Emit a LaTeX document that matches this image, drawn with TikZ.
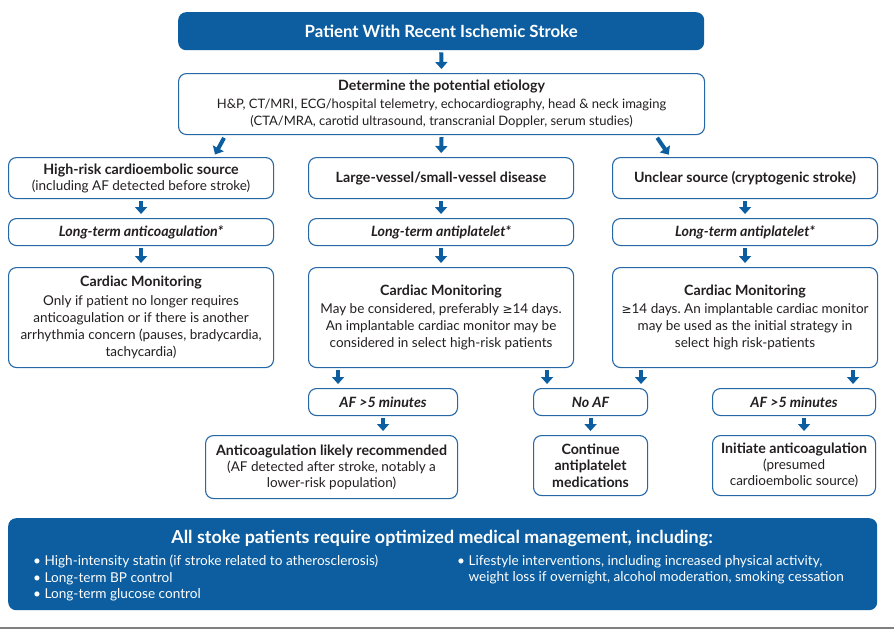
\documentclass[tikz,border=0pt]{standalone}
\usepackage{fontspec}
\setmainfont{Lato}
\newfontfamily\symfont{DejaVu Sans}
\usetikzlibrary{arrows.meta,calc}
\definecolor{sblue}{RGB}{12,94,160}
\definecolor{bblue}{RGB}{38,104,166}
\definecolor{txt}{RGB}{35,31,32}
\newcommand{\mygeq}{{\symfont\fontsize{12}{13}\selectfont ≥}}
\newcommand{\hdf}{\fontsize{14.2}{17}\selectfont\bfseries}
\frenchspacing
\begin{document}
\begin{tikzpicture}[x=1pt,y=-1pt,
  box/.style={draw=bblue, line width=1.1pt, rounded corners=8pt, fill=white, inner sep=0pt,
    align=center, anchor=north west, text=txt, font=\fontsize{13.5}{17}\selectfont},
  arr/.style={-{Triangle[length=7pt,width=12pt]}, line width=4pt, draw=sblue, shorten >=4pt, shorten <=2pt},
  bul/.style={text=white, anchor=north west, align=left, inner sep=0pt, font=\fontsize{13.6}{16.5}\selectfont},
]
\useasboundingbox (0,0) rectangle (894,629);
\fill[white] (0,0) rectangle (894,629);

% top
\node[anchor=north west, fill=sblue, rounded corners=8pt, minimum width=526pt, minimum height=38pt,
  inner sep=0pt, text=white, font=\fontsize{16.8}{18}\selectfont\bfseries] (top) at (178,12) {Patient With Recent Ischemic Stroke};
\node[box, minimum width=526pt, minimum height=61pt, font=\fontsize{13}{17.5}\selectfont] (etio) at (178,73)
  {{\hdf Determine the potential etiology}\\
   H\&P, CT/MRI, ECG/hospital telemetry, echocardiography, head \& neck imaging\\
   (CTA/MRA, carotid ultrasound, transcranial Doppler, serum studies)};

% left column
\node[box, minimum width=265pt, minimum height=41pt] (hr) at (8,157)
  {{\hdf High-risk cardioembolic source}\\[-1pt](including AF detected before stroke)};
\node[box, minimum width=265pt, minimum height=27pt, font=\hdf\itshape] (lac) at (8,218)
  {Long-term anticoagulation*};
\node[box, minimum width=265pt, minimum height=100pt] (lcm) at (8,267)
  {{\hdf Cardiac Monitoring}\\[2pt]
   Only if patient no longer requires\\
   anticoagulation or if there is another\\
   arrhythmia concern (pauses, bradycardia,\\
   tachycardia)};

% middle column
\node[box, minimum width=265pt, minimum height=41pt, font=\hdf] (lv) at (308,157)
  {Large-vessel/small-vessel disease};
\node[box, minimum width=265pt, minimum height=27pt, font=\hdf\itshape] (map) at (308,218)
  {Long-term antiplatelet*};
\node[box, minimum width=265pt, minimum height=100pt] (mcm) at (308,267)
  {{\hdf Cardiac Monitoring}\\[1pt]
   May be considered, preferably \mygeq14 days.\\
   An implantable cardiac monitor may be\\
   considered in select high-risk patients};

% right column
\node[box, minimum width=265pt, minimum height=41pt, font=\hdf] (uc) at (612,157)
  {Unclear source (cryptogenic stroke)};
\node[box, minimum width=265pt, minimum height=27pt, font=\hdf\itshape] (rap) at (612,218)
  {Long-term antiplatelet*};
\node[box, minimum width=265pt, minimum height=100pt] (rcm) at (612,267)
  {{\hdf Cardiac Monitoring}\\[1pt]
   \mygeq14 days. An implantable cardiac monitor\\
   may be used as the initial strategy in\\
   select high risk-patients};

% lower row
\node[box, minimum width=149pt, minimum height=27pt, font=\hdf\itshape] (afm) at (308,388)
  {AF >5 minutes};
\node[box, minimum width=114pt, minimum height=27pt, font=\hdf\itshape] (noaf) at (533,388)
  {No AF};
\node[box, minimum width=163pt, minimum height=27pt, font=\hdf\itshape] (afr) at (712,388)
  {AF >5 minutes};
\node[box, minimum width=252pt, minimum height=63pt] (ac) at (205,435)
  {{\hdf Anticoagulation likely recommended}\\[-1pt]
   (AF detected after stroke, notably a\\[-1pt] lower-risk population)};
\node[box, minimum width=114pt, minimum height=60pt, font=\fontsize{14.2}{16.5}\selectfont\bfseries] (cont) at (533,435)
  {Continue\\antiplatelet\\medications};
\node[box, minimum width=163pt, minimum height=60pt] (init) at (712,435)
  {{\hdf Initiate anticoagulation}\\[-1pt]
   (presumed\\[-1pt] cardioembolic source)};

% bottom
\node[anchor=north west, fill=sblue, rounded corners=8pt, minimum width=869pt, minimum height=92pt, inner sep=0pt] (bot) at (8,518) {};
\node[text=white, font=\fontsize{17.9}{22}\selectfont\bfseries, inner sep=0pt] (btitle) at (442,538)
  {All stoke patients require optimized medical management, including:};
\node[bul] (bl) at (33,555)
  {• High-intensity statin (if stroke related to atherosclerosis)\\
   • Long-term BP control\\
   • Long-term glucose control};
\node[bul] (br) at (457,555)
  {• Lifestyle interventions, including increased physical activity,\\
   \phantom{• }weight loss if overnight, alcohol moderation, smoking cessation};
\draw[black!50, line width=1.5pt] (0,628) -- (894,628);

% arrows
\draw[arr] (top.south) -- (etio.north);
\draw[arr] (etio.south) -- (lv.north);
\coordinate (el) at ($(etio.south west)+(47,1)$);
\coordinate (eltip) at ($(hr.north east)+(-61,1)$);
\draw[arr] (el) -- (eltip);
\coordinate (er) at ($(etio.south east)+(-49,1)$);
\coordinate (ertip) at ($(uc.north west)+(59,1)$);
\draw[arr] (er) -- (ertip);
\draw[arr] (hr.south) -- (lac.north);
\draw[arr] (lac.south) -- (lcm.north);
\draw[arr] (lv.south) -- (map.north);
\draw[arr] (map.south) -- (mcm.north);
\draw[arr] (uc.south) -- (rap.north);
\draw[arr] (rap.south) -- (rcm.north);
\coordinate (m1) at ($(mcm.south)+(-103,0)$);
\coordinate (m2) at ($(mcm.south)+(106,0)$);
\coordinate (r1) at ($(rcm.south)+(-104,0)$);
\coordinate (r2) at ($(rcm.south)+(108,0)$);
\draw[arr] (m1) -- (m1 |- afm.north);
\draw[arr] (m2) -- (m2 |- noaf.north);
\draw[arr] (r1) -- (r1 |- noaf.north);
\draw[arr] (r2) -- (r2 |- afr.north);
\draw[arr] (afm.south) -- (afm.south |- ac.north);
\draw[arr] (noaf.south) -- (cont.north);
\coordinate (a3) at ($(afr.south)+(10,0)$);
\draw[arr] (a3) -- (a3 |- init.north);
\end{tikzpicture}
\end{document}
